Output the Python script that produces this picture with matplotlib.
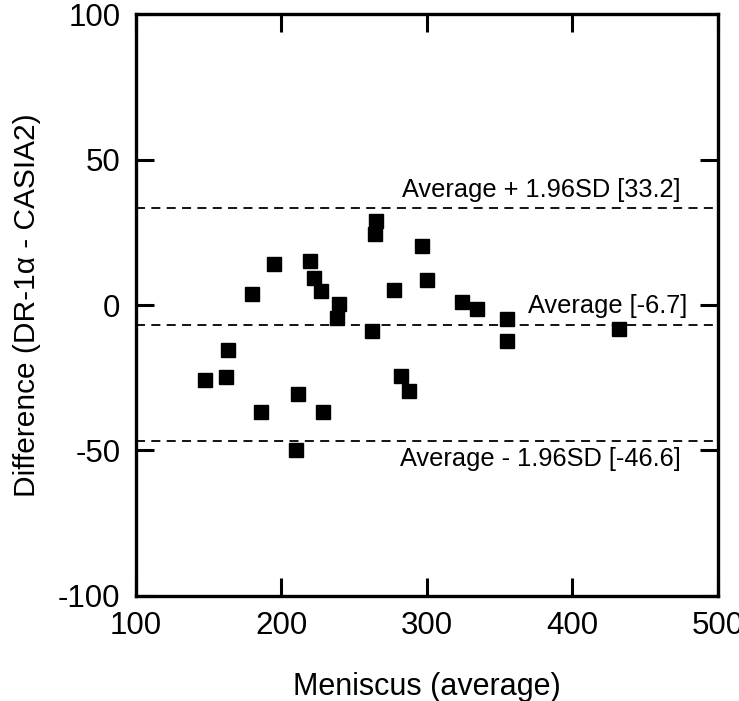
import numpy as np
import matplotlib.pyplot as plt

plt.rcParams['font.family'] = ['Liberation Sans', 'DejaVu Sans']
plt.rcParams['axes.unicode_minus'] = False

# Bland-Altman data
meniscus_avg = [147.6, 162.3, 163.7, 179.9, 185.9, 195.3, 211.8, 210.0, 219.8,
                222.8, 227.6, 229.0, 240.0, 238.4, 262.5, 265.4, 264.7, 277.3,
                282.1, 287.8, 296.6, 300.0, 324.1, 334.6, 355.0, 355.0, 432.2]
difference = [-25.7, -24.8, -15.4, 3.7, -36.6, 14.0, -30.6, -50.0, 15.2,
              9.3, 4.7, -36.6, 0.5, -4.3, -8.9, 29.0, 24.3, 5.3,
              -24.4, -29.7, 20.2, 8.6, 0.9, -1.3, -4.7, -12.4, -8.4]

mean_diff = -6.7
upper_loa = 33.2
lower_loa = -46.6

fig = plt.figure(figsize=(7.39, 7.01), dpi=100)
ax = fig.add_axes([0.1835, 0.1498, 0.7875, 0.8302])

ax.plot(meniscus_avg, difference, 's', color='black', markersize=10, zorder=3)

for val in [upper_loa, mean_diff, lower_loa]:
    ax.axhline(val, color='black', linestyle=(0, (5, 3.5)), linewidth=1.3)

ax.text(474.5, upper_loa + 2.3, 'Average + 1.96SD [%.1f]' % upper_loa,
        ha='right', va='bottom', fontsize=18.3)
ax.text(479, mean_diff + 2.3, 'Average [%.1f]' % mean_diff,
        ha='right', va='bottom', fontsize=18.3)
ax.text(474.5, lower_loa - 2.3, 'Average - 1.96SD [%.1f]' % lower_loa,
        ha='right', va='top', fontsize=18.3)

ax.set_xlim(100, 500)
ax.set_ylim(-100, 100)
ax.set_xticks([100, 200, 300, 400, 500])
ax.set_yticks([-100, -50, 0, 50, 100])

ax.tick_params(direction='in', length=13, width=2.2, labelsize=22.5,
               top=True, right=True, pad=11)
for s in ax.spines.values():
    s.set_linewidth(2.4)

ax.set_xlabel('Meniscus (average)', fontsize=22, labelpad=22)
ax.set_ylabel('Difference (DR-1α - CASIA2)', fontsize=21.5, labelpad=12)

fig.savefig('out.png', dpi=100)
